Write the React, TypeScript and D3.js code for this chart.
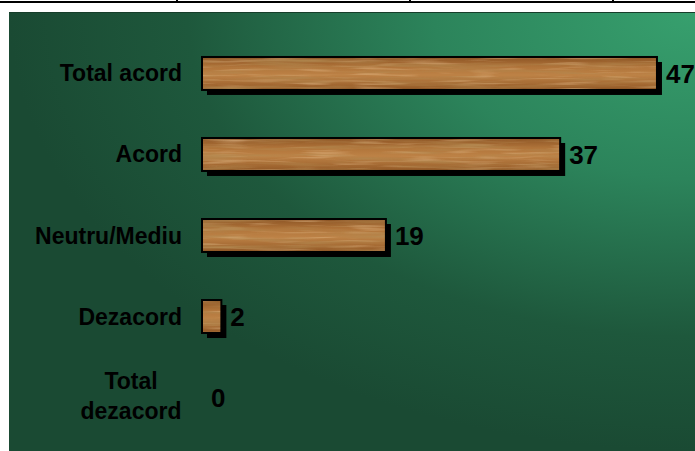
import React from "react";
import * as d3 from "d3";

const categorii = ["Total acord", "Acord", "Neutru/Mediu", "Dezacord", "Total dezacord"];
const valori = [47, 37, 19, 2, 0];
// etichete pe doua randuri unde e nevoie
const eticheteRanduri = [["Total acord"], ["Acord"], ["Neutru/Mediu"], ["Dezacord"], ["Total", "dezacord"]];

const W = 695;
const H = 451;
const font = "Arial, 'Liberation Sans', sans-serif";

const App = () => {
  const x = d3.scaleLinear().domain([0, 50]).range([202, 686]);
  const y = d3
    .scaleBand()
    .domain(categorii)
    .range([33, 438])
    .paddingInner(0.593)
    .paddingOuter(0.296);
  const bw = y.bandwidth();

  return (
    <svg width={W} height={H} style={{ position: "absolute", left: 0, top: 0 }}>
      <defs>
        <radialGradient id="fundal" cx="1" cy="0" r="1" fx="1" fy="0">
          <stop offset="0" stopColor="#37a06e" />
          <stop offset="0.38" stopColor="#2c845b" />
          <stop offset="0.74" stopColor="#1e583c" />
          <stop offset="1" stopColor="#1a4a33" />
        </radialGradient>
        <linearGradient id="lemn" x1="0" y1="0" x2="0" y2="1">
          <stop offset="0" stopColor="#8c5424" />
          <stop offset="0.3" stopColor="#b0743a" />
          <stop offset="0.55" stopColor="#bd8246" />
          <stop offset="0.8" stopColor="#a66b34" />
          <stop offset="1" stopColor="#915826" />
        </linearGradient>
        <filter id="fibra" x="0" y="0" width="100%" height="100%">
          <feTurbulence type="fractalNoise" baseFrequency="0.012 0.22" numOctaves="3" seed="7" result="n" />
          <feColorMatrix
            in="n"
            type="matrix"
            values="0 0 0 0 0.44  0 0 0 0 0.25  0 0 0 0 0.08  1.8 0 0 0 -0.8"
            result="inchis"
          />
          <feComposite in="inchis" in2="SourceGraphic" operator="in" />
        </filter>
        <filter id="fibra2" x="0" y="0" width="100%" height="100%">
          <feTurbulence type="fractalNoise" baseFrequency="0.02 0.35" numOctaves="2" seed="3" result="n" />
          <feColorMatrix
            in="n"
            type="matrix"
            values="0 0 0 0 0.82  0 0 0 0 0.56  0 0 0 0 0.3  0 1.4 0 0 -0.72"
            result="deschis"
          />
          <feComposite in="deschis" in2="SourceGraphic" operator="in" />
        </filter>
      </defs>

      <rect x={0} y={0} width={W} height={H} fill="#fff" />
      {/* marginea tabelului de deasupra */}
      <line x1={0} x2={W} y1={2} y2={2} stroke="#000" strokeWidth={2} />
      {[177, 410, 613].map(t => (
        <line key={t} x1={t} x2={t} y1={0} y2={2} stroke="#000" strokeWidth={2} />
      ))}

      <rect x={9} y={12} width={W - 9} height={H - 12} fill="url(#fundal)" />
      <line x1={9} x2={W} y1={12.5} y2={12.5} stroke="#163d2a" strokeWidth={1} />

      {categorii.map((c, i) => {
        const y0 = y(c) as number;
        const w = x(valori[i]) - x(0);
        const cy = y0 + bw / 2;
        const randuri = eticheteRanduri[i];
        return (
          <g key={c}>
            {w > 0 && (
              <g>
                <rect x={x(0) + 5} y={y0 + 5} width={w} height={bw} fill="#000" />
                <rect x={x(0)} y={y0} width={w} height={bw} fill="url(#lemn)" />
                <rect x={x(0)} y={y0} width={w} height={bw} fill="#fff" filter="url(#fibra2)" />
                <rect x={x(0)} y={y0} width={w} height={bw} fill="#fff" filter="url(#fibra)" />
                <rect x={x(0)} y={y0} width={w} height={bw} fill="none" stroke="#000" strokeWidth={2} />
              </g>
            )}
            {randuri.length === 1 ? (
              <text
                x={182}
                y={cy + 8}
                textAnchor="end"
                fontFamily={font}
                fontWeight="bold"
                fontSize={23}
                fill="#000"
              >
                {randuri[0]}
              </text>
            ) : (
              <text textAnchor="middle" fontFamily={font} fontWeight="bold" fontSize={23} fill="#000">
                {randuri.map((r, j) => (
                  <tspan key={r} x={131} y={cy - 9 + j * 30}>
                    {r}
                  </tspan>
                ))}
              </text>
            )}
            <text
              x={x(valori[i]) + 9}
              y={cy + 9.5}
              fontFamily={font}
              fontWeight="bold"
              fontSize={26}
              fill="#000"
            >
              {valori[i]}
            </text>
          </g>
        );
      })}
    </svg>
  );
};

export default App;
